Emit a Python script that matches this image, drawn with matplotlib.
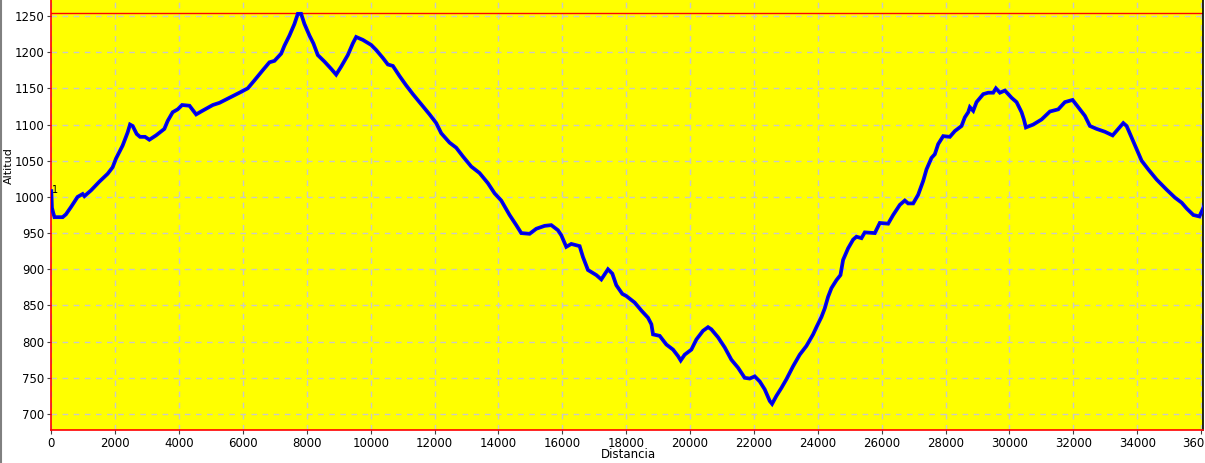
import matplotlib
matplotlib.use("Agg")
import matplotlib.pyplot as plt
from matplotlib.lines import Line2D

distance = [0, 20, 60, 100, 355, 460, 616, 823, 981, 1035, 1243, 1503, 1765, 1921, 2026,
            2234, 2390, 2465, 2548, 2673, 2778, 2935, 3070, 3279, 3540, 3644, 3800, 3957,
            4096, 4327, 4535, 4691, 5057, 5265, 5578, 5891, 6150, 6360, 6620, 6830, 6987,
            7197, 7300, 7457, 7613, 7718, 7822, 7926, 8083, 8208, 8344, 8553, 8762, 8919,
            9075, 9284, 9440, 9545, 9754, 10016, 10173, 10382, 10538, 10695, 10904, 11113,
            11322, 11583, 11844, 12052, 12209, 12470, 12678, 12887, 13148, 13409, 13670,
            13879, 14088, 14349, 14558, 14715, 14976, 15185, 15446, 15655, 15863, 15968,
            16124, 16281, 16542, 16646, 16803, 17064, 17221, 17430, 17566, 17691, 17879,
            18005, 18266, 18475, 18684, 18789, 18841, 19049, 19258, 19467, 19624, 19707,
            19832, 20041, 20198, 20406, 20563, 20667, 20876, 21085, 21294, 21502, 21711,
            21868, 22025, 22182, 22338, 22495, 22568, 22703, 22860, 23017, 23226, 23434,
            23643, 23852, 23957, 24113, 24218, 24322, 24427, 24584, 24709, 24792, 24949,
            25106, 25210, 25367, 25471, 25785, 25941, 26202, 26359, 26568, 26724, 26829,
            26986, 27142, 27299, 27403, 27560, 27664, 27769, 27926, 28134, 28291, 28500,
            28604, 28709, 28761, 28866, 28970, 29179, 29336, 29492, 29576, 29701, 29858,
            30067, 30223, 30380, 30453, 30516, 30745, 31006, 31267, 31528, 31737, 31978,
            32155, 32363, 32520, 32729, 32990, 33231, 33408, 33565, 33669, 33826, 33982,
            34139, 34348, 34609, 34922, 35183, 35394, 35550, 35759, 35947, 36022, 36094]

altitude = [1008, 985, 978, 972, 972, 976, 986, 1000, 1004, 1001, 1009, 1021, 1032, 1041, 1053,
            1071, 1089, 1100, 1098, 1087, 1083, 1083, 1079, 1085, 1094, 1105, 1117, 1121,
            1127, 1126, 1114, 1118, 1127, 1130, 1137, 1144, 1150, 1161, 1175, 1186, 1188,
            1198, 1209, 1223, 1239, 1253, 1253, 1239, 1223, 1212, 1196, 1187, 1177, 1169,
            1180, 1196, 1212, 1221, 1217, 1210, 1203, 1192, 1183, 1181, 1167, 1154,
            1142, 1128, 1114, 1102, 1088, 1075, 1068, 1056, 1042, 1033, 1019,
            1005, 995, 975, 961, 950, 949, 956, 960, 961, 954, 947,
            931, 935, 932, 917, 899, 892, 886, 900, 894, 878, 866,
            863, 854, 843, 833, 824, 810, 808, 796, 789, 780, 774,
            782, 789, 803, 815, 820, 817, 806, 792, 775, 764, 750,
            749, 752, 745, 734, 718, 714, 725, 736, 748, 766, 782,
            794, 810, 820, 834, 846, 862, 874, 885, 892, 913, 929,
            941, 945, 943, 951, 950, 964, 963, 975, 989, 995, 991,
            991, 1003, 1022, 1038, 1054, 1059, 1073, 1084, 1083, 1091, 1098,
            1110, 1117, 1124, 1119, 1131, 1142, 1144, 1144, 1150, 1144, 1147,
            1137, 1131, 1117, 1107, 1096, 1100, 1107, 1118, 1121, 1131, 1134,
            1124, 1112, 1098, 1094, 1090, 1085, 1094, 1102, 1098, 1082, 1066,
            1050, 1038, 1024, 1010, 999, 992, 984, 975, 973, 980, 987]

x_ticks = list(range(0, 36001, 2000))
y_ticks = list(range(700, 1251, 50))
max_altitude = 1254

fig = plt.figure(figsize=(12.05, 4.63), dpi=100)
fig.patch.set_facecolor("white")
ax = fig.add_axes([51.3 / 1205, 33 / 463, 1152 / 1205, 430 / 463])
ax.set_facecolor("#ffff00")

ax.set_xlim(0, 36070)
ax.set_ylim(677.9, 1272.1)
ax.set_xticks(x_ticks)
ax.set_yticks(y_ticks)
ax.tick_params(axis="both", labelsize=8.5, length=3, width=0.8, color="#404040",
               labelcolor="black", pad=2)

ax.grid(True, color="#c8c8c8", linestyle=(0, (4, 4)), linewidth=1)
ax.set_axisbelow(True)

ax.axhline(max_altitude, color="red", linewidth=1, zorder=2)

ax.plot(distance, altitude, color="#0000ff", linewidth=2.7, solid_joinstyle="miter",
        zorder=3)
ax.plot(distance, altitude, color="#00008b", linewidth=0.6, zorder=3.5, alpha=0.6)

ax.text(20, 1010, "1", fontsize=7, ha="left", va="center", color="black", zorder=4)

ax.spines["top"].set_visible(False)
ax.spines["left"].set_color("red")
ax.spines["bottom"].set_color("red")
ax.spines["right"].set_color("black")
for s in ax.spines.values():
    s.set_linewidth(1.2)

fig.text(628 / 1205, 1 - 455 / 463, "Distancia", ha="center", va="center", fontsize=8.5)
fig.text(9 / 1205, 1 - 166 / 463, "Altitud", ha="center", va="center", fontsize=8,
         rotation=90)

fig.add_artist(Line2D([0.5 / 1205, 0.5 / 1205], [0, 1], transform=fig.transFigure,
                      color="#808080", linewidth=1.5))

fig.savefig("out.png", dpi=100)
